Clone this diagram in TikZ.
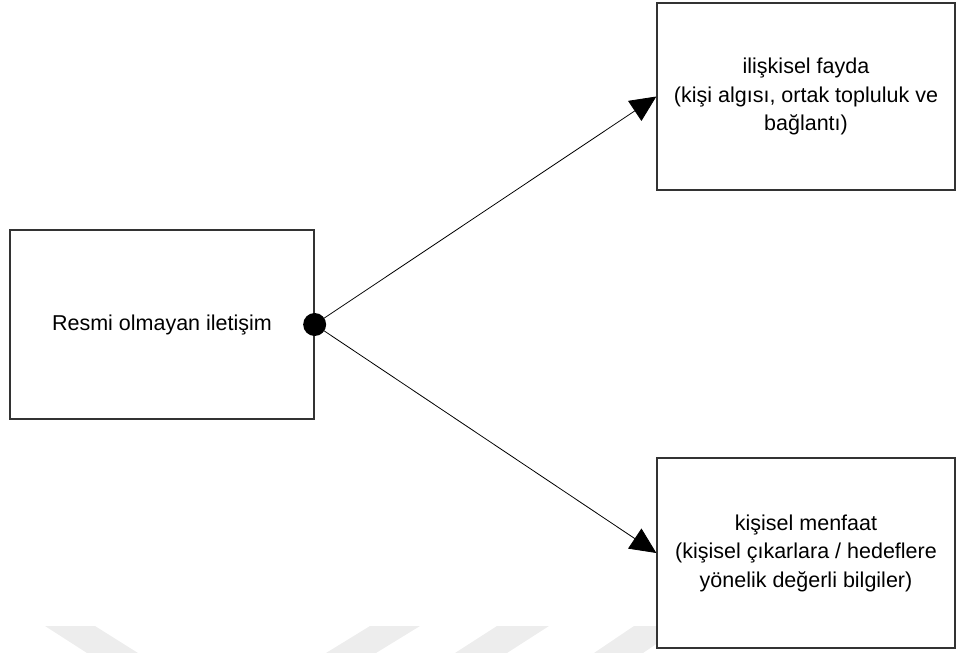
\documentclass[tikz,border=0pt]{standalone}
\usepackage{fontspec}
\setmainfont{Liberation Sans}
\usetikzlibrary{arrows.meta}
\begin{document}
\begin{tikzpicture}[x=1pt,y=-1pt,
  box/.style={draw=black!80,line width=1.3pt,rectangle,align=center,
    font=\fontsize{21.5}{28.5}\selectfont,inner sep=0pt},
  link/.style={draw=black,line width=0.8pt,-{Triangle[length=26pt,width=24pt]}},
  mark band/.style={fill=black!7,draw=none}]
\useasboundingbox (0,0) rectangle (956,653);
% faint background bands
\fill[mark band] (45,626) -- (95,626) -- (138,653) -- (87,653) -- cycle;
\fill[mark band] (370,626) -- (420,626) -- (376,653) -- (326,653) -- cycle;
\fill[mark band] (497,626) -- (549,626) -- (507,653) -- (455,653) -- cycle;
\fill[mark band] (634,626) -- (683,626) -- (643,653) -- (594,653) -- cycle;
% boxes
\node[box,minimum width=304pt,minimum height=189pt] (src) at (162,324.5) {Resmi olmayan iletişim};
\node[box,minimum width=298pt,minimum height=187pt,fill=white] (rel) at (806,96.5)
  {ilişkisel fayda\\(kişi algısı, ortak topluluk ve\\bağlantı)};
\node[box,minimum width=298pt,minimum height=190pt,fill=white] (per) at (806,553)
  {kişisel menfaat\\(kişisel çıkarlara / hedeflere\\yönelik değerli bilgiler)};
% junction dot and connectors
\coordinate (hubc) at (src.east);
\draw[link] (hubc) -- (rel.west);
\draw[link] (hubc) -- (per.west);
\node[circle,fill=black,minimum size=23pt,inner sep=0pt] (hub) at (hubc) {};
\end{tikzpicture}
\end{document}
